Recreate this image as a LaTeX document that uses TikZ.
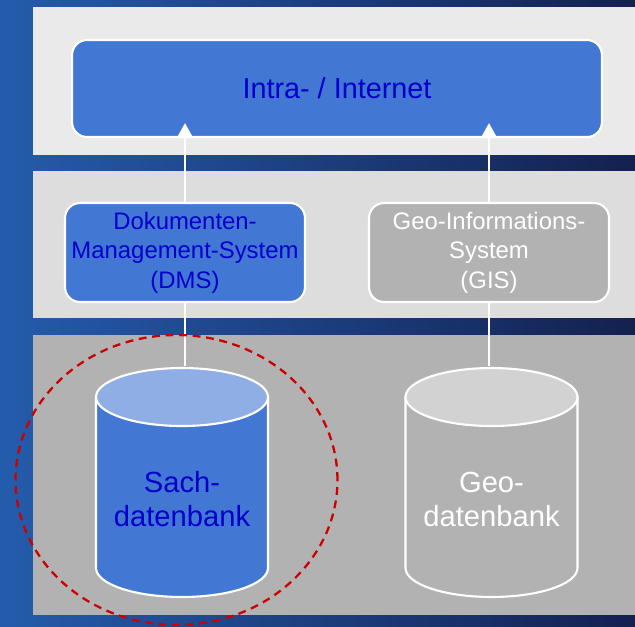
\documentclass[tikz,border=0pt]{standalone}
\usepackage{fontspec}
\setmainfont{Liberation Sans}
\usetikzlibrary{arrows.meta}
\definecolor{bgleft}{RGB}{36,92,172}
\definecolor{bgright}{RGB}{20,32,80}
\definecolor{bandtop}{RGB}{234,234,234}
\definecolor{bandmid}{RGB}{221,221,221}
\definecolor{bandlow}{RGB}{178,178,178}
\definecolor{boxblue}{RGB}{66,120,212}
\definecolor{capblue}{RGB}{143,174,230}
\definecolor{capgray}{RGB}{210,210,210}
\definecolor{textblue}{RGB}{0,0,204}
\definecolor{ringred}{RGB}{204,0,0}
\tikzstyle{line} = [draw, white, line width=1.2pt, -{Triangle[width=0.32cm,length=0.3cm]}]
\tikzstyle{link} = [draw, white, line width=1.2pt]
\tikzstyle{rim} = [draw=white, line width=1.2pt]
\tikzstyle{block} = [draw=white, line width=1.2pt, rectangle, rounded corners=0.3cm, text centered, align=center, inner sep=2pt]
\tikzstyle{bluebox} = [block, fill=boxblue, text=textblue]
\tikzstyle{graybox} = [block, fill=bandlow, text=white]
\tikzstyle{sysbox} = [minimum width=4.8cm, minimum height=1.98cm, font=\fontsize{13.6}{16.7}\selectfont]
\tikzstyle{ring} = [draw=ringred, line width=1.3pt, dash pattern=on 4.5pt off 3.2pt]
\tikzset{
    store/.style 2 args={rectangle, minimum width=3.5cm, minimum height=4.64cm, inner sep=0pt,
        align=center, text height=1.74cm, text depth=0cm, font=\fontsize{16.6}{19.3}\selectfont,
        path picture={
            \path[rim, fill=#1] ([shift={(0.03cm,-0.61cm)}]path picture bounding box.north west)
                -- ([shift={(0.03cm,0.61cm)}]path picture bounding box.south west)
                arc[start angle=180, end angle=360, x radius=1.72cm, y radius=0.58cm]
                -- ([shift={(-0.03cm,-0.61cm)}]path picture bounding box.north east) -- cycle;
            \path[rim, fill=#2] ([yshift=-0.61cm]path picture bounding box.north) ellipse [x radius=1.72cm, y radius=0.58cm];
        }}
}

\begin{document}
\begin{tikzpicture}[x=0.02cm, y=-0.02cm]
        \useasboundingbox (0,0) rectangle (635,626);
        \shade[left color=bgleft, right color=bgright] (0,0) rectangle (635,626);
        % layers
        \fill[bandtop] (33,7) rectangle (635,155);
        \fill[bandmid] (33,171) rectangle (635,318);
        \fill[bandlow] (33,335) rectangle (635,615);
        \node[bluebox, minimum width=10.6cm, minimum height=1.94cm, font=\fontsize{16.4}{19}\selectfont] (inet) at (337,88.5) {Intra- / Internet};
        \node[bluebox, sysbox] (dms) at (185,252.5) {Dokumenten-\\Management-System\\(DMS)};
        \node[graybox, sysbox] (gis) at (489,252.5) {Geo-Informations-\\System\\(GIS)};
        \node[store={boxblue}{capblue}, text=textblue] (sach) at (182,482.5) {Sach-\\datenbank};
        \node[store={bandlow}{capgray}, text=white] (geo) at (491.5,482.5) {Geo-\\datenbank};
        \path[link] (dms.south) -- (dms.south |- sach.north);
        \path[link] (gis.south) -- (gis.south |- geo.north);
        \path[line, shorten >=-0.3cm] (dms.north) -- (dms.north |- inet.south);
        \path[line, shorten >=-0.3cm] (gis.north) -- (gis.north |- inet.south);
        \draw[ring] ([shift={(-5.5,-2.5)}]sach.center) ellipse [x radius=3.22cm, y radius=2.9cm];
    \end{tikzpicture}
\end{document}
